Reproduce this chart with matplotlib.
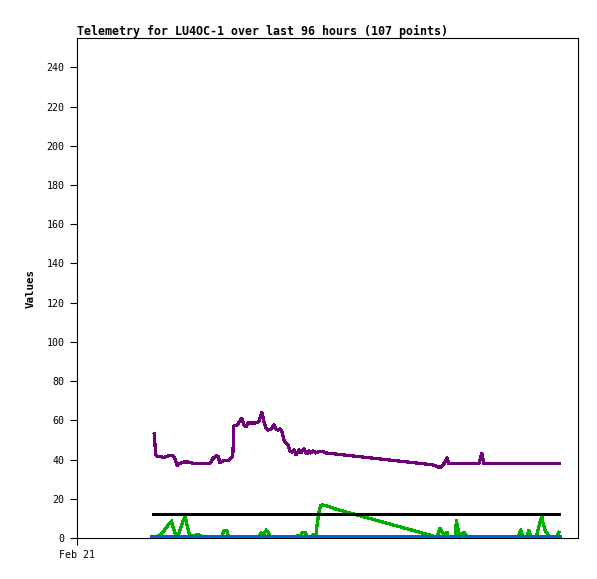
import matplotlib
matplotlib.use("Agg")
import matplotlib.pyplot as plt

# hours since Feb 21 00:00
purple_t = [18.2, 18.4, 18.6, 19.1, 19.8, 20.5, 21.2, 21.9, 22.6, 23.1, 23.6, 24.3,
            25.2, 26.2, 27.1, 28.3, 29.5, 30.7, 31.4, 32.1, 32.8, 33.3, 33.7, 34.2,
            34.9, 35.8, 36.6, 36.8, 37.0, 37.7, 38.4, 38.9, 39.4, 39.9, 40.3, 41.3,
            42.2, 42.9, 43.6, 44.1, 44.6, 45.0, 45.8, 46.5, 46.9, 47.4, 47.9, 48.3,
            48.8, 49.3, 49.8, 50.2, 50.7, 51.2, 51.7, 52.4, 52.8, 53.5, 54.2, 54.7,
            55.2, 55.7, 56.4, 57.1, 58.0, 58.7, 84.0, 84.9, 85.6, 86.3, 86.8, 87.3,
            87.7, 94.8, 95.5, 96.0, 113.7]
purple_v = [53.0, 47.5, 42.4, 41.6, 41.6, 41.0, 41.6, 42.2, 41.8, 40.6, 37.0, 38.0,
            38.8, 38.8, 38.2, 37.8, 37.8, 37.8, 38.3, 40.6, 42.0, 41.6, 38.5, 39.0,
            39.6, 39.6, 41.2, 44.0, 57.2, 57.2, 59.7, 61.0, 57.5, 56.7, 58.7, 58.7,
            58.7, 59.5, 64.0, 59.5, 56.2, 55.1, 55.6, 57.7, 55.6, 55.0, 55.6, 54.6,
            50.0, 48.5, 47.5, 44.4, 43.9, 44.9, 42.4, 45.0, 43.4, 45.4, 42.9, 44.4,
            43.4, 44.4, 43.4, 44.0, 44.0, 43.4, 37.3, 36.5, 35.9, 37.3, 38.5, 41.0,
            37.8, 37.8, 43.2, 37.8, 37.8]

green_t = [18.0, 18.6, 19.1, 19.8, 20.3, 21.0, 21.7, 22.3, 22.6, 23.1, 23.6, 24.1,
           24.5, 25.0, 25.5, 25.9, 26.4, 26.9, 27.4, 28.1, 28.8, 29.2, 29.7, 34.2,
           34.4, 34.7, 35.4, 35.6, 35.8, 42.9, 43.4, 44.0, 44.7, 45.9, 51.7, 52.1,
           52.6, 53.3, 53.8, 54.2, 54.5, 55.2, 55.7, 56.1, 56.4, 56.6, 56.8, 57.1,
           57.5, 58.0, 59.7, 60.8, 84.9, 85.6, 86.3, 86.6, 87.3, 87.7, 89.2, 89.5,
           90.1, 90.3, 91.3, 91.7, 92.2, 96.2, 96.7, 97.2, 98.6, 99.1, 99.6, 104.0,
           104.7, 105.2, 106.1, 106.6, 107.1, 108.3, 108.7, 109.2, 109.7, 109.9,
           110.4, 110.8, 111.3, 111.6, 113.0, 113.7]
green_v = [0.5, 0.5, 1.0, 2.0, 3.1, 5.1, 7.1, 8.7, 6.1, 2.6, 0.5, 2.6,
           5.6, 8.7, 11.0, 7.1, 2.6, 0.5, 1.0, 1.5, 1.5, 1.0, 0.0, 0.0,
           2.6, 3.7, 3.7, 1.5, 0.0, 0.0, 2.7, 1.8, 4.1, 0.0, 0.0, 1.5,
           1.0, 2.9, 2.9, 1.0, 0.0, 0.0, 1.5, 1.5, 2.0, 5.8, 9.2, 13.4,
           16.5, 16.9, 15.9, 14.9, 0.5, 5.0, 2.6, 1.5, 2.9, 0.0, 0.0, 8.8,
           2.5, 0.5, 2.9, 1.5, 0.0, 0.0, 0.9, 0.0, 0.0, 0.9, 0.0, 0.0,
           4.1, 0.5, 0.0, 4.0, 0.0, 0.0, 3.5, 8.2, 11.2, 8.2,
           4.1, 2.6, 1.0, 0.0, 0.0, 2.9]

black_t = [18.0, 113.7]
black_v = [12.0, 12.0]
blue_t = [18.0, 113.7]
blue_v = [0.0, 0.0]

y_ticks = list(range(0, 241, 20))
x_tick_labels = ["Feb 21"]

fig = plt.figure(figsize=(5.97, 5.79), dpi=100)
ax = fig.add_axes([77 / 597, 1 - 538 / 579, 501 / 597, 500 / 579])

ax.plot(purple_t, purple_v, color="#700078", lw=1.6, antialiased=False)
ax.plot(green_t, green_v, color="#00b000", lw=1.6, antialiased=False)
ax.plot(black_t, black_v, color="black", lw=2.0, antialiased=False)
ax.plot(blue_t, blue_v, color="#0066cc", lw=3.0, antialiased=False, zorder=3)

ax.set_xlim(0, 118.2)
ax.set_ylim(0, 255)
ax.set_yticks(y_ticks)
ax.set_xticks([0])
ax.set_xticklabels(x_tick_labels)
ax.tick_params(direction="out", length=5, width=0.8, labelsize=7.2, pad=4)
for lab in ax.get_xticklabels() + ax.get_yticklabels():
    lab.set_family("DejaVu Sans Mono")
for s in ax.spines.values():
    s.set_linewidth(0.8)

ax.set_title("Telemetry for LU4OC-1 over last 96 hours (107 points)",
             loc="left", fontsize=8.4, fontweight="bold",
             family="DejaVu Sans Mono", pad=2)
ax.set_ylabel("Values", fontsize=7.8, fontweight="bold",
              family="DejaVu Sans Mono", labelpad=8)

fig.savefig("out.png", dpi=100)
